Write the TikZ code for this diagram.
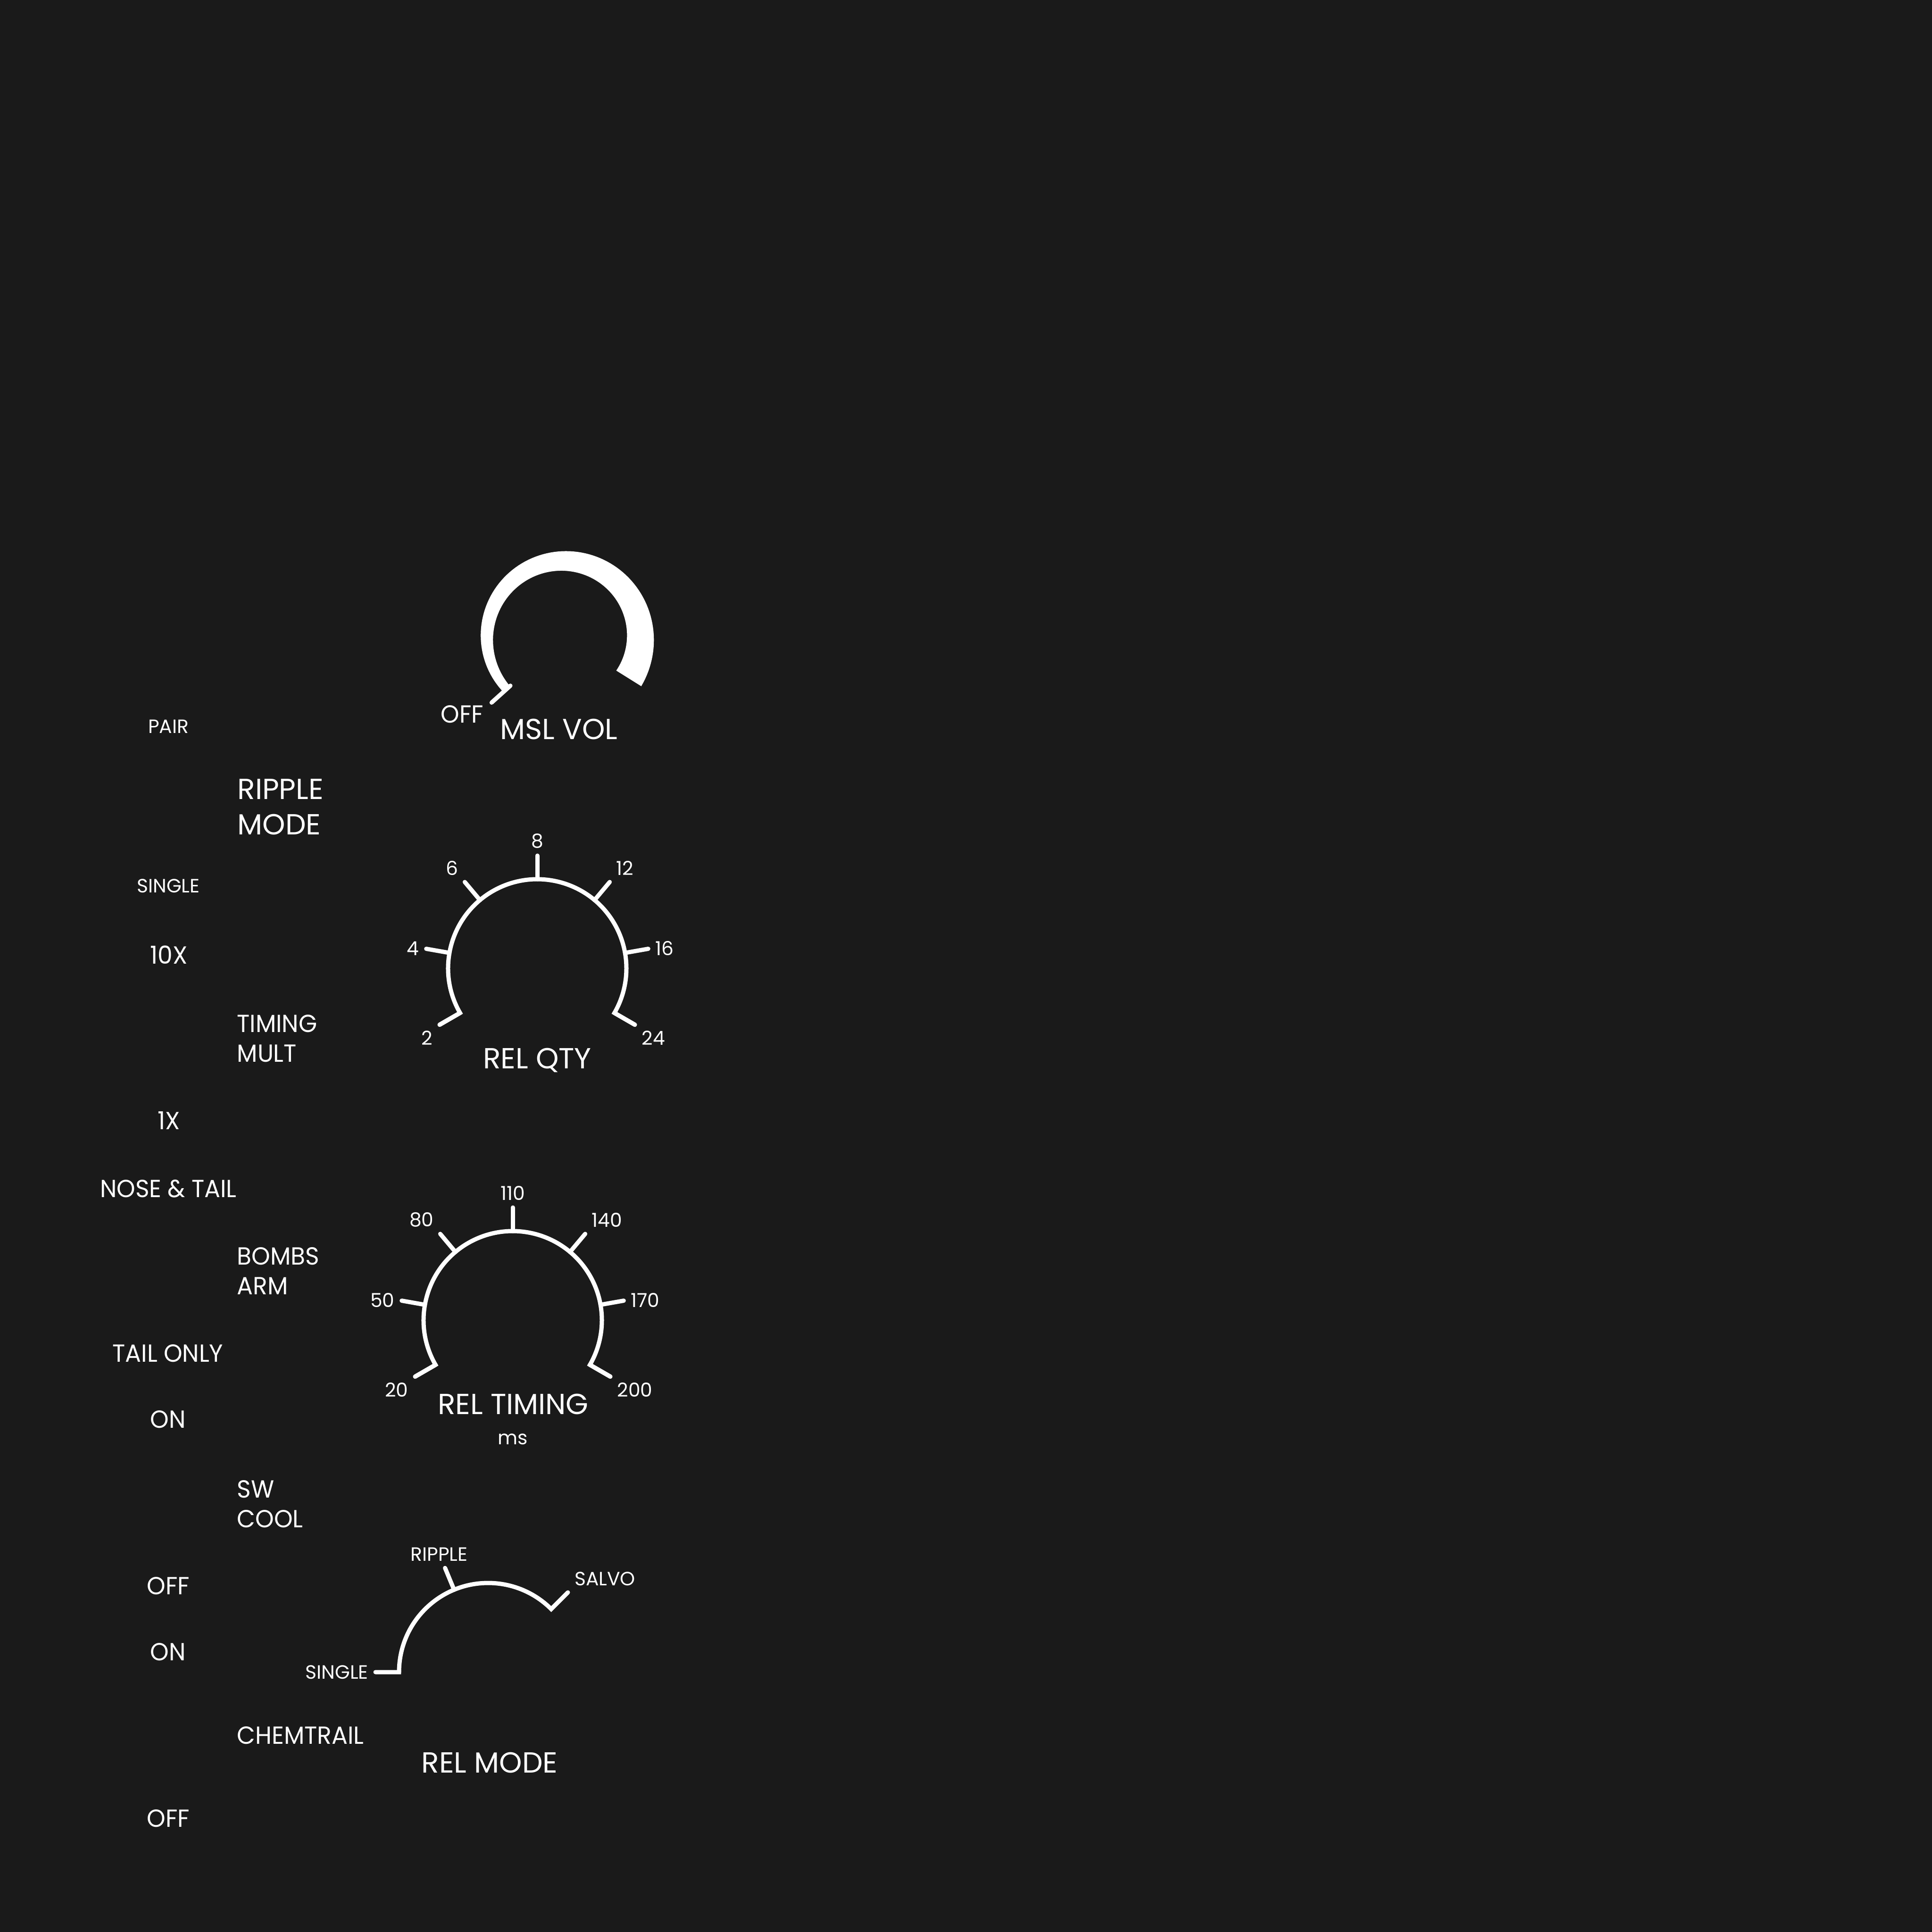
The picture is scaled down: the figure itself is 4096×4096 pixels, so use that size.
\documentclass[tikz,border=0pt]{standalone}
\usepackage{fontspec}
\setmainfont{Poppins}
\newfontfamily\midfam{Poppins}[FakeStretch=0.96]
\usepackage{tikz}
\definecolor{panel}{HTML}{1A1A1A}
\tikzset{
  lbl/.style={text=white, inner sep=0pt},
  bigtxt/.style={lbl, font=\fontsize{17.5}{21.25}\selectfont},
  midtxt/.style={lbl, font=\midfam\fontsize{14.9}{17.8}\selectfont},
  smalltxt/.style={lbl, font=\fontsize{11.6}{14}\selectfont},
  ticklbl/.style={smalltxt, inner sep=3pt},
  dialline/.style={draw=white, line width=2.56pt, line cap=round, line join=miter}
}
\begin{document}
\begin{tikzpicture}[x=0.01cm, y=-0.01cm]
\fill[panel] (0,0) rectangle (4096,4096);

% switch positions, left column
\node[smalltxt, anchor=base] (pair) at (357,1554) {PAIR};
\node[smalltxt, anchor=base] (single) at (357,1892) {SINGLE};
\node[midtxt, anchor=base] (tenx) at (358,2043) {10X};
\node[midtxt, anchor=base] (onex) at (358,2394) {1X};
\node[midtxt, anchor=base] (nosetail) at (357,2538) {NOSE \& TAIL};
\node[midtxt, anchor=base] (tailonly) at (356,2887) {TAIL ONLY};
\node[midtxt, anchor=base] (coolon) at (356,3027) {ON};
\node[midtxt, anchor=base] (cooloff) at (357,3380) {OFF};
\node[midtxt, anchor=base] (chemon) at (356,3520) {ON};
\node[midtxt, anchor=base] (chemoff) at (357,3873) {OFF};

% switch names
\node[bigtxt, anchor=north west, align=left] (ripplemode) at (503,1651) {RIPPLE\\MODE};
\node[midtxt, anchor=north west, align=left] (timingmult) at (502,2151) {TIMING\\MULT};
\node[midtxt, anchor=north west, align=left] (bombsarm) at (502,2644) {BOMBS\\ARM};
\node[midtxt, anchor=north west, align=left] (swcool) at (502,3138) {SW\\COOL};
\node[midtxt, anchor=base west] (chemtrail) at (502,3697) {CHEMTRAIL};

% MSL VOL knob
\begin{scope}[shift={(1195,1352)}, yscale=-1]
  \fill[white] plot[domain=-32:222, samples=100] (\x:{162.75+(57-0.172*\x)/2})
    -- plot[domain=222:-32, samples=100] (\x:{162.75-(57-0.172*\x)/2}) -- cycle;
  \draw[dialline] (222:152) -- (222:205.5);
\end{scope}
\node[midtxt, anchor=base] (mslvoloff) at (980,1532) {OFF};
\node[bigtxt, anchor=base] (mslvol) at (1185,1567) {MSL VOL};

% REL QTY knob
\begin{scope}[shift={(1139,2053)}, yscale=-1]
  \draw[dialline] (210:239) -- (210:189) arc[start angle=210, end angle=-30, radius=189] -- (-30:239);
  \foreach \a/\t/\anc in {210/2/north east, 170/4/east, 130/6/south east, 90/8/south,
                          50/12/south west, 10/16/west, -30/24/north west}{
    \draw[dialline] (\a:189) -- (\a:239);
    \node[ticklbl, anchor=\anc] (qty\t) at (\a:243) {\t};
  }
\end{scope}
\node[bigtxt, anchor=base] (relqty) at (1139,2265) {REL QTY};

% REL TIMING knob
\begin{scope}[shift={(1087,2799)}, yscale=-1]
  \draw[dialline] (210:239) -- (210:189) arc[start angle=210, end angle=-30, radius=189] -- (-30:239);
  \foreach \a/\t/\anc in {210/20/north east, 170/50/east, 130/80/south east, 90/110/south,
                          50/140/south west, 10/170/west, -30/200/north west}{
    \draw[dialline] (\a:189) -- (\a:239);
    \node[ticklbl, anchor=\anc] (tim\t) at (\a:243) {\t};
  }
\end{scope}
\node[bigtxt, anchor=base] (reltiming) at (1088,2998) {REL TIMING};
\node[smalltxt, anchor=base] (ms) at (1087,3062) {ms};

% REL MODE knob
\begin{scope}[shift={(1035,3545)}, yscale=-1]
  \draw[dialline] (180:239) -- (180:189) arc[start angle=180, end angle=45, radius=189] -- (45:239);
  \draw[dialline] (112.5:189) -- (112.5:239);
  \node[ticklbl, anchor=east] (modesingle) at (180:243) {SINGLE};
  \node[ticklbl, anchor=-67.5] (moderipple) at (112.5:243) {RIPPLE};
  \node[ticklbl, anchor=south west] (modesalvo) at (45:243) {SALVO};
\end{scope}
\node[bigtxt, anchor=base] (relmode) at (1038,3758) {REL MODE};
\end{tikzpicture}
\end{document}
